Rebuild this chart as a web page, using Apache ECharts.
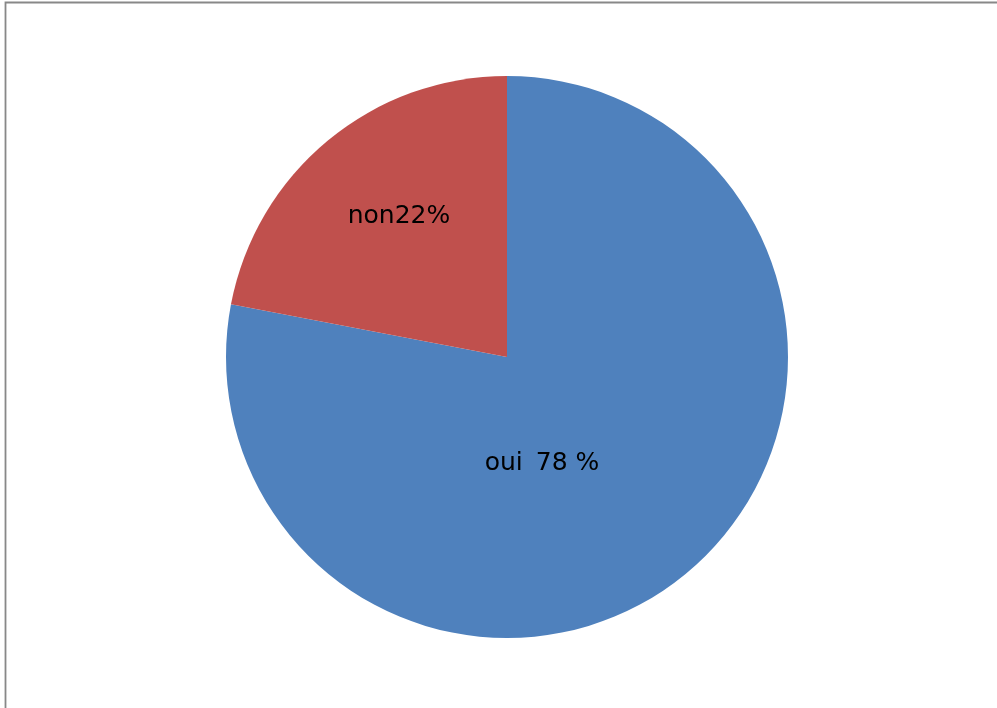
<!DOCTYPE html>
<html>
<head>
<meta charset="utf-8">
<script src="https://cdn.jsdelivr.net/npm/echarts@6/dist/echarts.min.js"></script>
<style>
  html, body { margin: 0; padding: 0; background: #fff; }
  #main { width: 997px; height: 708px; }
</style>
</head>
<body>
<div id="main"></div>
<script>
// données
const categories = ['oui', 'non'];
const values = [78, 22];
const labelTexts = ['oui{sp|}78 %', 'non22%'];
const colors = ['#4F81BD', '#C0504D'];

// position des étiquettes (relative au centre, en px), comme dans Excel
const labelOffsets = [[35, 106], [-108, -141]];
const center = [507, 357];

const chart = echarts.init(document.getElementById('main'));

const option = {
  backgroundColor: '#fff',
  animation: false,
  graphic: [{
    type: 'rect',
    shape: { x: 5.5, y: 2.5, width: 1000, height: 720 },
    style: { fill: 'none', stroke: '#888', lineWidth: 1.8 },
    silent: true
  }],
  series: [{
    type: 'pie',
    center: center,
    radius: 281,
    startAngle: 90,
    clockwise: true,
    itemStyle: { borderWidth: 0 },
    label: {
      show: true,
      position: 'inside',
      color: '#000',
      fontFamily: 'DejaVu Sans',
      fontSize: 25,
      formatter: p => labelTexts[p.dataIndex],
      rich: {
        sp: { width: 13, fontSize: 25 }
      }
    },
    labelLayout: params => {
      const off = labelOffsets[params.dataIndex];
      return { x: center[0] + off[0], y: center[1] + off[1], align: 'center', verticalAlign: 'middle' };
    },
    labelLine: { show: false },
    data: categories.map((c, i) => ({
      name: c,
      value: values[i],
      itemStyle: { color: colors[i] }
    }))
  }]
};

chart.setOption(option);
</script>
</body>
</html>
